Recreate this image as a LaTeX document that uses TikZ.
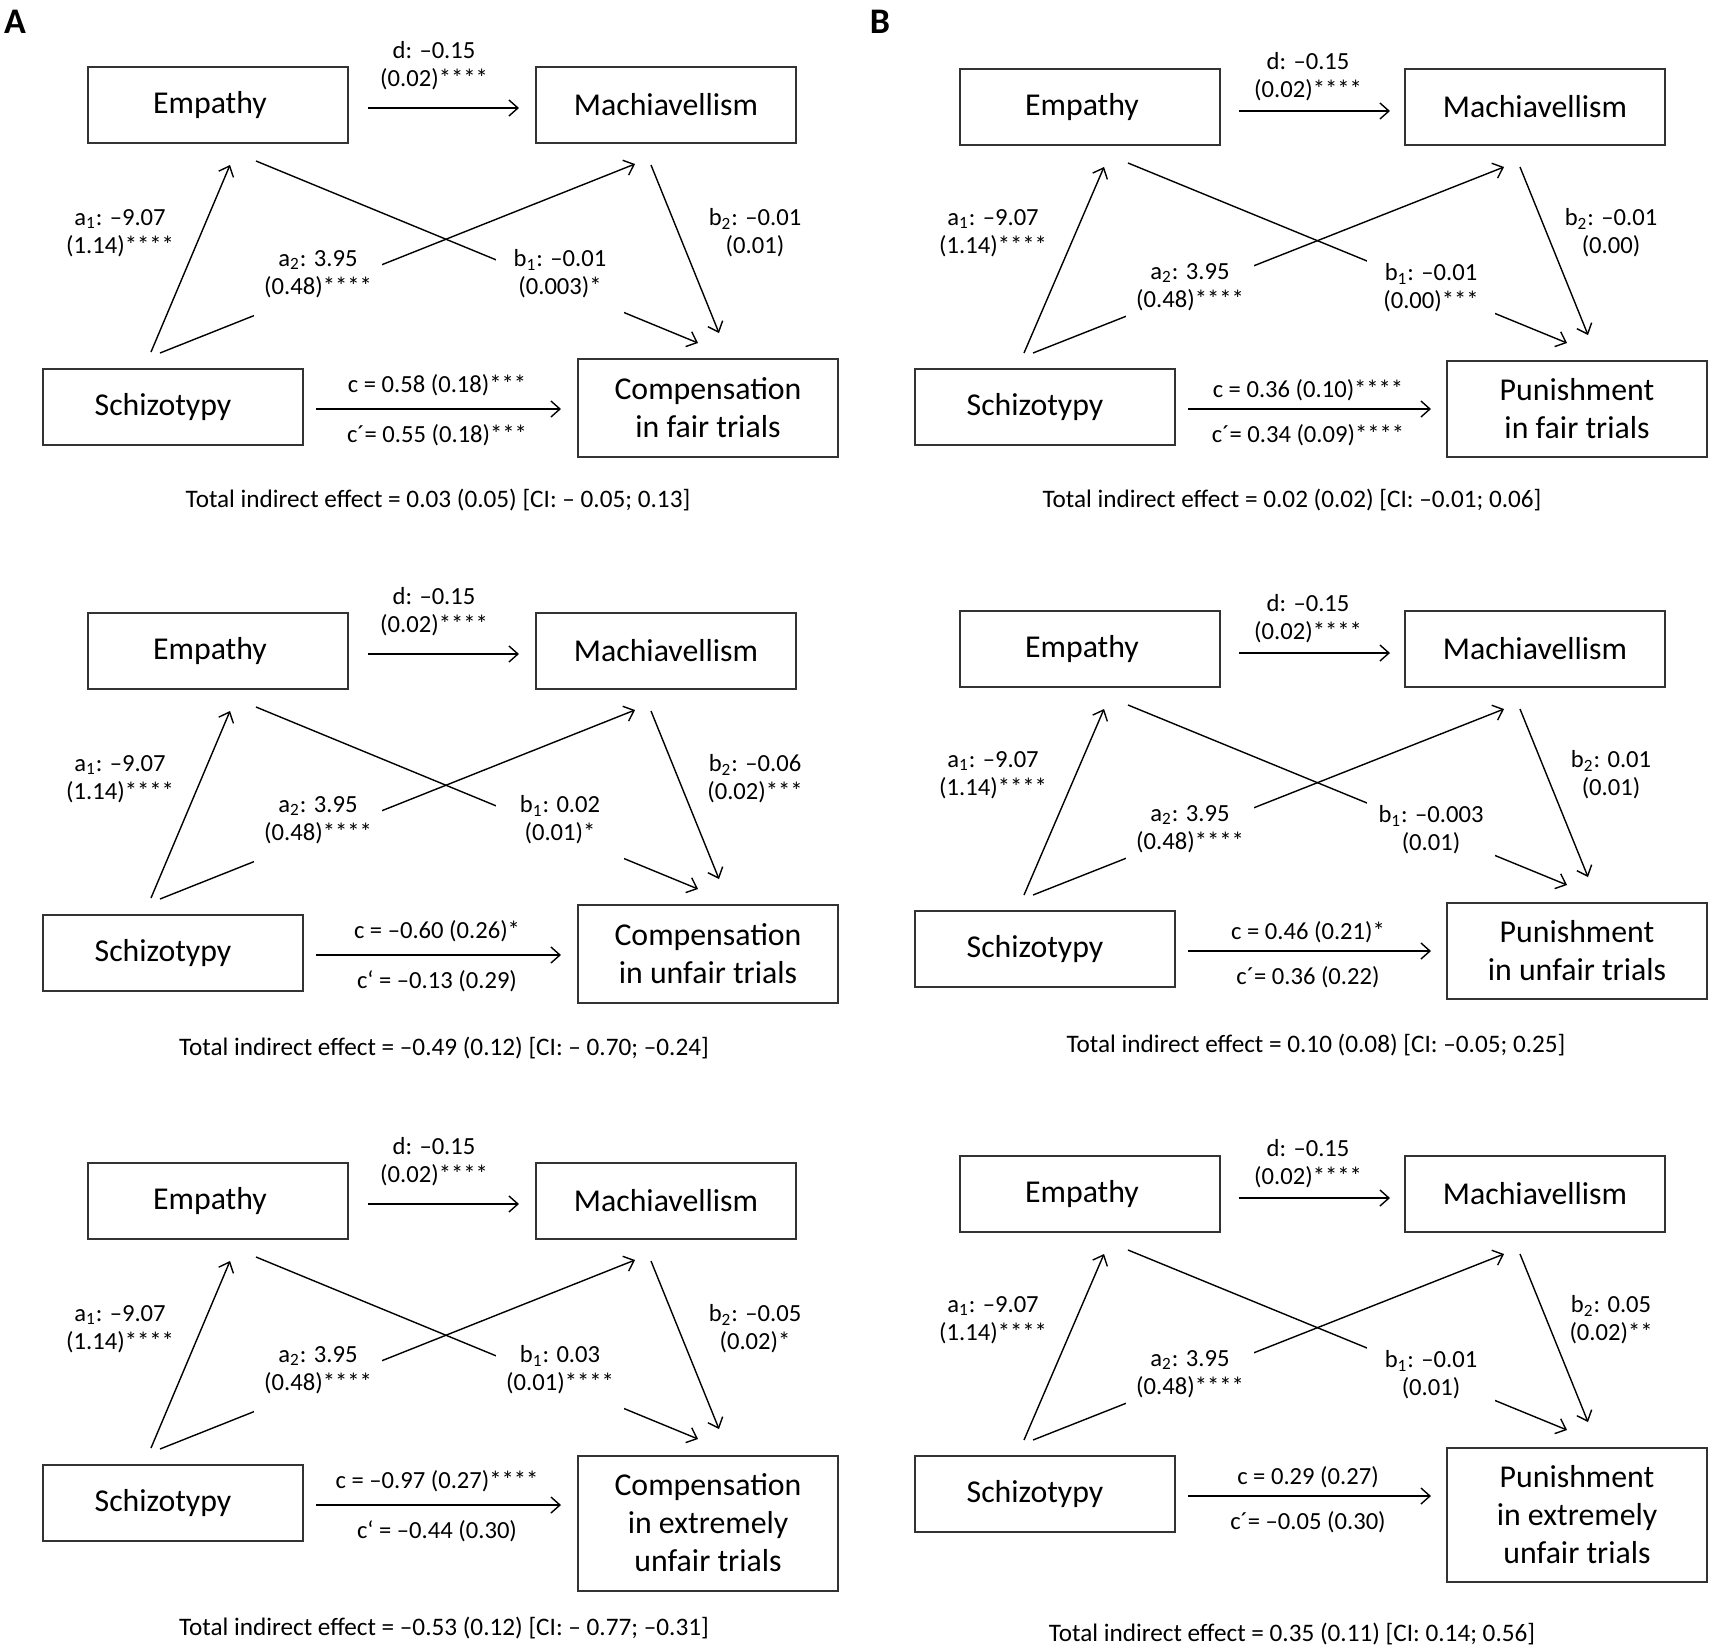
\documentclass[tikz,border=0pt]{standalone}
\usepackage{fontspec}
\setmainfont{Carlito}
\usetikzlibrary{arrows.meta}

\tikzset{
  box/.style={draw=black!80, line width=1pt, minimum width=130pt, minimum height=38pt, inner sep=0pt, align=center, font=\fontsize{15.9}{19}\selectfont},
  lab/.style={align=center, inner sep=0pt, font=\fontsize{12.3}{14}\selectfont},
  gap/.style={lab, fill=white, minimum width=64pt, minimum height=44pt},
  total/.style={inner sep=0pt, font=\fontsize{12.6}{15}\selectfont},
  link/.style={line width=0.7pt, -{Straight Barb[length=4.5pt,width=8pt]}},
  panel/.style={inner sep=0pt, font=\fontsize{18}{20}\selectfont\bfseries}
}

\begin{document}
\begin{tikzpicture}[x=0.5pt, y=-0.5pt]

\useasboundingbox (0,0) rectangle (1713,1650);

\node [panel] (labA) at (15,22) {A};
\node [panel] (labB) at (880,22) {B};

% column A, row 1
\begin{scope}
\node [box] (emp1) at (218,105) {Empathy\hspace*{8pt}};
\node [box] (mach1) at (666,105) {Machiavellism};
\node [box] (sch1) at (173,407) {Schizotypy\hspace*{10pt}};
\node [box, minimum height=49pt] (out1) at (708,408) {Compensation\\in fair trials};
\coordinate (ds1) at (368,108); \coordinate (de1) at (519,108);
\coordinate (a1s1) at (151,352); \coordinate (a1e1) at (230,165);
\coordinate (a2s1) at (160,353); \coordinate (a2e1) at (635,164);
\coordinate (b1s1) at (256,161); \coordinate (b1e1) at (698,343);
\coordinate (b2s1) at (651,165); \coordinate (b2e1) at (719,333);
\coordinate (cs1) at (316,409); \coordinate (ce1) at (561,409);
\draw [link] (ds1) -- (de1);
\draw [link] (a1s1) -- (a1e1);
\draw [link] (a2s1) -- (a2e1);
\draw [link] (b1s1) -- (b1e1);
\draw [link] (b2s1) -- (b2e1);
\draw [link] (cs1) -- (ce1);
\node [lab] (dl1) at (434,66) {d: –0.15\\(0.02)****};
\node [lab] (a1l1) at (120,233) {a\textsubscript{1}: –9.07\\(1.14)****};
\node [gap] (a2l1) at (318,274) {a\textsubscript{2}: 3.95\\(0.48)****};
\node [gap] (b1l1) at (560,274) {b\textsubscript{1}: –0.01\\(0.003)*};
\node [lab] (b2l1) at (755,233) {b\textsubscript{2}: –0.01\\(0.01)};
\node [lab] (cl1) at (437,385) {c = 0.58 (0.18)***};
\node [lab] (cpl1) at (437,435) {c´= 0.55 (0.18)***};
\node [total] (tot1) at (438,500) {Total indirect effect = 0.03 (0.05) [CI: – 0.05; 0.13]};
\end{scope}

% column A, row 2
\begin{scope}[shift={(0,546)}]
\node [box] (emp2) at (218,105) {Empathy\hspace*{8pt}};
\node [box] (mach2) at (666,105) {Machiavellism};
\node [box] (sch2) at (173,407) {Schizotypy\hspace*{10pt}};
\node [box, minimum height=49pt] (out2) at (708,408) {Compensation\\in unfair trials};
\coordinate (ds2) at (368,108); \coordinate (de2) at (519,108);
\coordinate (a1s2) at (151,352); \coordinate (a1e2) at (230,165);
\coordinate (a2s2) at (160,353); \coordinate (a2e2) at (635,164);
\coordinate (b1s2) at (256,161); \coordinate (b1e2) at (698,343);
\coordinate (b2s2) at (651,165); \coordinate (b2e2) at (719,333);
\coordinate (cs2) at (316,409); \coordinate (ce2) at (561,409);
\draw [link] (ds2) -- (de2);
\draw [link] (a1s2) -- (a1e2);
\draw [link] (a2s2) -- (a2e2);
\draw [link] (b1s2) -- (b1e2);
\draw [link] (b2s2) -- (b2e2);
\draw [link] (cs2) -- (ce2);
\node [lab] (dl2) at (434,66) {d: –0.15\\(0.02)****};
\node [lab] (a1l2) at (120,233) {a\textsubscript{1}: –9.07\\(1.14)****};
\node [gap] (a2l2) at (318,274) {a\textsubscript{2}: 3.95\\(0.48)****};
\node [gap] (b1l2) at (560,274) {b\textsubscript{1}: 0.02\\(0.01)*};
\node [lab] (b2l2) at (755,233) {b\textsubscript{2}: –0.06\\(0.02)***};
\node [lab] (cl2) at (437,385) {c = –0.60 (0.26)*};
\node [lab] (cpl2) at (437,435) {c‘ = –0.13 (0.29)};
\node [total] (tot2) at (444,502) {Total indirect effect = –0.49 (0.12) [CI: – 0.70; –0.24]};
\end{scope}

% column A, row 3
\begin{scope}[shift={(0,1096)}]
\node [box] (emp3) at (218,105) {Empathy\hspace*{8pt}};
\node [box] (mach3) at (666,105) {Machiavellism};
\node [box] (sch3) at (173,407) {Schizotypy\hspace*{10pt}};
\node [box, minimum height=67.5pt] (out3) at (708,427) {Compensation\\in extremely\\unfair trials};
\coordinate (ds3) at (368,108); \coordinate (de3) at (519,108);
\coordinate (a1s3) at (151,352); \coordinate (a1e3) at (230,165);
\coordinate (a2s3) at (160,353); \coordinate (a2e3) at (635,164);
\coordinate (b1s3) at (256,161); \coordinate (b1e3) at (698,343);
\coordinate (b2s3) at (651,165); \coordinate (b2e3) at (719,333);
\coordinate (cs3) at (316,409); \coordinate (ce3) at (561,409);
\draw [link] (ds3) -- (de3);
\draw [link] (a1s3) -- (a1e3);
\draw [link] (a2s3) -- (a2e3);
\draw [link] (b1s3) -- (b1e3);
\draw [link] (b2s3) -- (b2e3);
\draw [link] (cs3) -- (ce3);
\node [lab] (dl3) at (434,66) {d: –0.15\\(0.02)****};
\node [lab] (a1l3) at (120,233) {a\textsubscript{1}: –9.07\\(1.14)****};
\node [gap] (a2l3) at (318,274) {a\textsubscript{2}: 3.95\\(0.48)****};
\node [gap] (b1l3) at (560,274) {b\textsubscript{1}: 0.03\\(0.01)****};
\node [lab] (b2l3) at (755,233) {b\textsubscript{2}: –0.05\\(0.02)*};
\node [lab] (cl3) at (437,385) {c = –0.97 (0.27)****};
\node [lab] (cpl3) at (437,435) {c‘ = –0.44 (0.30)};
\node [total] (tot3) at (444,532) {Total indirect effect = –0.53 (0.12) [CI: – 0.77; –0.31]};
\end{scope}

% column B, row 1
\begin{scope}
\node [box] (emp4) at (1090,107) {Empathy\hspace*{8pt}};
\node [box] (mach4) at (1535,107) {Machiavellism};
\node [box] (sch4) at (1045,407) {Schizotypy\hspace*{10pt}};
\node [box, minimum height=48pt] (out4) at (1577,409) {Punishment\\in fair trials};
\coordinate (ds4) at (1239,111); \coordinate (de4) at (1390,111);
\coordinate (a1s4) at (1024,353); \coordinate (a1e4) at (1104,167);
\coordinate (a2s4) at (1033,353); \coordinate (a2e4) at (1504,167);
\coordinate (b1s4) at (1128,163); \coordinate (b1e4) at (1567,343);
\coordinate (b2s4) at (1520,167); \coordinate (b2e4) at (1588,335);
\coordinate (cs4) at (1188,409); \coordinate (ce4) at (1431,409);
\draw [link] (ds4) -- (de4);
\draw [link] (a1s4) -- (a1e4);
\draw [link] (a2s4) -- (a2e4);
\draw [link] (b1s4) -- (b1e4);
\draw [link] (b2s4) -- (b2e4);
\draw [link] (cs4) -- (ce4);
\node [lab] (dl4) at (1308,77) {d: –0.15\\(0.02)****};
\node [lab] (a1l4) at (993,233) {a\textsubscript{1}: –9.07\\(1.14)****};
\node [gap] (a2l4) at (1190,287) {a\textsubscript{2}: 3.95\\(0.48)****};
\node [gap] (b1l4) at (1431,288) {b\textsubscript{1}: –0.01\\(0.00)***};
\node [lab] (b2l4) at (1611,233) {b\textsubscript{2}: –0.01\\(0.00)};
\node [lab] (cl4) at (1308,390) {c = 0.36 (0.10)****};
\node [lab] (cpl4) at (1308,435) {c´= 0.34 (0.09)****};
\node [total] (tot4) at (1292,500) {Total indirect effect = 0.02 (0.02) [CI: –0.01; 0.06]};
\end{scope}

% column B, row 2
\begin{scope}[shift={(0,542)}]
\node [box] (emp5) at (1090,107) {Empathy\hspace*{8pt}};
\node [box] (mach5) at (1535,107) {Machiavellism};
\node [box] (sch5) at (1045,407) {Schizotypy\hspace*{10pt}};
\node [box, minimum height=48pt] (out5) at (1577,409) {Punishment\\in unfair trials};
\coordinate (ds5) at (1239,111); \coordinate (de5) at (1390,111);
\coordinate (a1s5) at (1024,353); \coordinate (a1e5) at (1104,167);
\coordinate (a2s5) at (1033,353); \coordinate (a2e5) at (1504,167);
\coordinate (b1s5) at (1128,163); \coordinate (b1e5) at (1567,343);
\coordinate (b2s5) at (1520,167); \coordinate (b2e5) at (1588,335);
\coordinate (cs5) at (1188,409); \coordinate (ce5) at (1431,409);
\draw [link] (ds5) -- (de5);
\draw [link] (a1s5) -- (a1e5);
\draw [link] (a2s5) -- (a2e5);
\draw [link] (b1s5) -- (b1e5);
\draw [link] (b2s5) -- (b2e5);
\draw [link] (cs5) -- (ce5);
\node [lab] (dl5) at (1308,77) {d: –0.15\\(0.02)****};
\node [lab] (a1l5) at (993,233) {a\textsubscript{1}: –9.07\\(1.14)****};
\node [gap] (a2l5) at (1190,287) {a\textsubscript{2}: 3.95\\(0.48)****};
\node [gap] (b1l5) at (1431,288) {b\textsubscript{1}: –0.003\\(0.01)};
\node [lab] (b2l5) at (1611,233) {b\textsubscript{2}: 0.01\\(0.01)};
\node [lab] (cl5) at (1308,390) {c = 0.46 (0.21)*};
\node [lab] (cpl5) at (1308,435) {c´= 0.36 (0.22)};
\node [total] (tot5) at (1316,503) {Total indirect effect = 0.10 (0.08) [CI: –0.05; 0.25]};
\end{scope}

% column B, row 3
\begin{scope}[shift={(0,1087)}]
\node [box] (emp6) at (1090,107) {Empathy\hspace*{8pt}};
\node [box] (mach6) at (1535,107) {Machiavellism};
\node [box] (sch6) at (1045,407) {Schizotypy\hspace*{10pt}};
\node [box, minimum height=67pt] (out6) at (1577,428) {Punishment\\in extremely\\unfair trials};
\coordinate (ds6) at (1239,111); \coordinate (de6) at (1390,111);
\coordinate (a1s6) at (1024,353); \coordinate (a1e6) at (1104,167);
\coordinate (a2s6) at (1033,353); \coordinate (a2e6) at (1504,167);
\coordinate (b1s6) at (1128,163); \coordinate (b1e6) at (1567,343);
\coordinate (b2s6) at (1520,167); \coordinate (b2e6) at (1588,335);
\coordinate (cs6) at (1188,409); \coordinate (ce6) at (1431,409);
\draw [link] (ds6) -- (de6);
\draw [link] (a1s6) -- (a1e6);
\draw [link] (a2s6) -- (a2e6);
\draw [link] (b1s6) -- (b1e6);
\draw [link] (b2s6) -- (b2e6);
\draw [link] (cs6) -- (ce6);
\node [lab] (dl6) at (1308,77) {d: –0.15\\(0.02)****};
\node [lab] (a1l6) at (993,233) {a\textsubscript{1}: –9.07\\(1.14)****};
\node [gap] (a2l6) at (1190,287) {a\textsubscript{2}: 3.95\\(0.48)****};
\node [gap] (b1l6) at (1431,288) {b\textsubscript{1}: –0.01\\(0.01)};
\node [lab] (b2l6) at (1611,233) {b\textsubscript{2}: 0.05\\(0.02)**};
\node [lab] (cl6) at (1308,390) {c = 0.29 (0.27)};
\node [lab] (cpl6) at (1308,435) {c´= –0.05 (0.30)};
\node [total] (tot6) at (1292,547) {Total indirect effect = 0.35 (0.11) [CI: 0.14; 0.56]};
\end{scope}

\end{tikzpicture}
\end{document}
